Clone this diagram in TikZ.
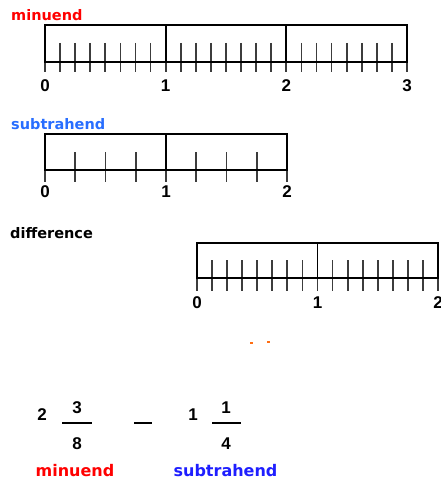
\documentclass[tikz,border=0pt]{standalone}
\usepackage{fontspec}
\setmainfont{DejaVu Sans}
\newfontfamily\digitfont{Liberation Sans}
\definecolor{mred}{RGB}{255,0,0}
\definecolor{sblue}{RGB}{40,110,255}
\definecolor{bblue}{RGB}{30,30,255}
\definecolor{tickgray}{RGB}{60,60,60}
\definecolor{dotorange}{RGB}{255,110,20}
\tikzset{
  rulerbox/.style={draw=black, line width=1.9pt},
  tickline/.style={draw=tickgray, line width=1.8pt},
  numlabel/.style={font=\digitfont\bfseries\fontsize{17}{17}\selectfont, inner sep=0pt},
  toplabel/.style={font=\bfseries\fontsize{14.5}{14.5}\selectfont, inner sep=0pt, anchor=west},
  botlabel/.style={font=\bfseries\fontsize{16}{16}\selectfont, inner sep=0pt},
  mathtext/.style={font=\digitfont\bfseries\fontsize{17}{17}\selectfont, inner sep=0pt},
}
\begin{document}
\begin{tikzpicture}[x=1pt,y=-1pt]
\useasboundingbox (0,0) rectangle (441,484);
% ---------- minuend ruler ----------
\node[toplabel, text=mred] (lminuend) at (11,15) {minuend};
\def\ux{120.67}
\foreach \i in {1,...,23}{\draw[tickline] ({45+\i*\ux/8},43) -- ({45+\i*\ux/8},72);}
\foreach \i in {0,...,3}{\draw[tickline] ({45+\i*\ux},62) -- ({45+\i*\ux},72);}
\draw[rulerbox] (45,25) rectangle (407,62);
\draw[rulerbox] (165.67,25) -- (165.67,62);
\draw[rulerbox] (286.33,25) -- (286.33,62);
\foreach \i/\n in {0/ma,1/mb,2/mc,3/md}{\node[numlabel] (\n) at ({45+\i*\ux},86) {\i};}
% ---------- subtrahend ruler ----------
\node[toplabel, text=sblue] (lsub) at (11,124) {subtrahend};
\def\uy{121}
\foreach \i in {1,...,7}{\draw[tickline] ({45+\i*\uy/4},152) -- ({45+\i*\uy/4},182);}
\foreach \i in {0,...,2}{\draw[tickline] ({45+\i*\uy},170) -- ({45+\i*\uy},182);}
\draw[rulerbox] (45,134) rectangle (287,170);
\draw[rulerbox] (166,134) -- (166,170);
\foreach \i/\n in {0/sa,1/sb,2/sc}{\node[numlabel] (\n) at ({45+\i*\uy},192) {\i};}
% ---------- difference ruler ----------
\node[toplabel, text=black] (ldiff) at (10,233) {difference};
\def\uz{120.5}
\foreach \i in {1,...,15}{\draw[tickline] ({197+\i*\uz/8},260) -- ({197+\i*\uz/8},291);}
\foreach \i in {0,...,2}{\draw[tickline] ({197+\i*\uz},278) -- ({197+\i*\uz},291);}
\draw[rulerbox] (197,243) rectangle (438,278);
\draw[rulerbox] (317.5,243) -- (317.5,278);
\foreach \i/\n in {0/da,1/db,2/dc}{\node[numlabel] (\n) at ({197+\i*\uz},303) {\i};}
% orange dots
\fill[dotorange] (250,342) rectangle (253,344);
\fill[dotorange] (267,341) rectangle (270,343);
% ---------- expression ----------
\node[mathtext] (w1) at (42,415) {2};
\node[mathtext] (n1) at (77,408) {3};
\node[mathtext] (d1) at (77,444) {8};
\draw[line width=2pt] (62,423) -- (92,423);
\draw[line width=2.2pt] (134,423) -- (152,423);
\node[mathtext] (w2) at (193,415) {1};
\node[mathtext] (n2) at (226,408) {1};
\node[mathtext] (d2) at (226,444) {4};
\draw[line width=2pt] (212,423) -- (241,423);
\node[botlabel, text=mred] (bminuend) at (75,471) {minuend};
\node[botlabel, text=bblue] (bsub) at (225.5,471) {subtrahend};
\end{tikzpicture}
\end{document}
